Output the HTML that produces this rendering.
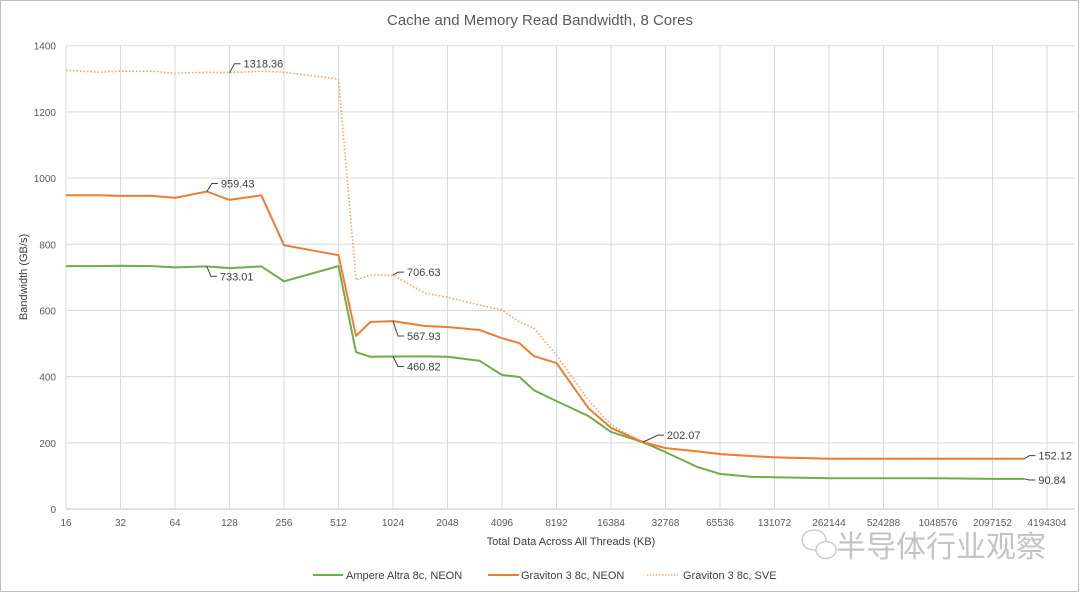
<!DOCTYPE html>
<html><head><meta charset="utf-8"><style>
html,body{margin:0;padding:0;background:#fff}
svg{display:block;font-family:"Liberation Sans","Noto Sans CJK SC",sans-serif}
</style></head><body>
<svg id="chart" width="1080" height="593" viewBox="0 0 1080 593">
<rect x="0.5" y="0.5" width="1078" height="591" fill="#fff" stroke="#bfbfbf"/>
<text x="540" y="25" text-anchor="middle" font-size="15" fill="#595959">Cache and Memory Read Bandwidth, 8 Cores</text>
<g id="grid"></g>
<g id="yticks"></g>
<g id="xticks"></g>
<g id="series"></g>
<g id="labels"></g>
<text transform="translate(27,277) rotate(-90)" text-anchor="middle" font-size="11" fill="#404040">Bandwidth (GB/s)</text>
<text x="571" y="545" text-anchor="middle" font-size="11" fill="#404040">Total Data Across All Threads (KB)</text>
<g>
<g><line x1="313" y1="575" x2="343" y2="575" stroke="#70ad47" stroke-width="2"/><text x="346" y="579" font-size="11" fill="#404040">Ampere Altra 8c, NEON</text></g>
<g><line x1="488" y1="575" x2="519" y2="575" stroke="#ed7d31" stroke-width="2"/><text x="521" y="579" font-size="11" fill="#404040">Graviton 3 8c, NEON</text></g>
<g><line x1="647" y1="575" x2="678" y2="575" stroke="#f4b183" stroke-width="1.5" stroke-dasharray="1.5,1.5"/><text x="683" y="579" font-size="11" fill="#404040">Graviton 3 8c, SVE</text></g>
</g>
<g opacity="0.5">
<ellipse cx="814" cy="540" rx="12" ry="10" fill="none" stroke="#999" stroke-width="1.5"/>
<ellipse cx="826" cy="550" rx="10" ry="8.5" fill="#fff" stroke="#999" stroke-width="1.5"/>
<text x="836" y="557" font-size="30" fill="#888" font-family="'Noto Sans CJK SC',sans-serif">半导体行业观察</text>
</g>
</svg>
<script>
const sizes=[16,24,32,48,64,96,128,192,256,512,640,768,1024,1536,2048,3072,4096,5120,6144,8192,12288,16384,24576,32768,49152,65536,98304,131072,262144,524288,1048576,2097152,3145728];
const ampere=[734,734,735,734,730,733.01,728,733,688,734,474,460,460.82,461,460,448,405,399,359,326,281,233,202,172,127,106,97,96,93,93,93,91,90.84];
const gravNeon=[948,948,946,946,940,959.43,934,948,797,767,523,565,567.93,553,550,541,516,501,462,441,305,245,202.07,184,174,166,160,156,152,152,152,152,152.12];
const gravSve=[1326,1320,1323,1323,1317,1320,1318.36,1323,1320,1299,692,707,706.63,652,640,616,601,565,547,465,329,254,200,185,175,167,161,157,153,153,153,153,153];
const yTicks=[0,200,400,600,800,1000,1200,1400];
const xTicks=[16,32,64,128,256,512,1024,2048,4096,8192,16384,32768,65536,131072,262144,524288,1048576,2097152,4194304];
const X0=66,X1=1047,Y0=509,Y1=45.7;
const xs=v=>X0+(Math.log2(v)-4)/18*(X1-X0);
const ys=v=>Y0-v/1400*(Y0-Y1);
const NS="http://www.w3.org/2000/svg";
function mk(t,a,p){const e=document.createElementNS(NS,t);for(const k in a)e.setAttribute(k,a[k]);p.appendChild(e);return e;}
const grid=document.getElementById('grid'),yt=document.getElementById('yticks'),xt=document.getElementById('xticks');
yTicks.forEach(v=>{
  const l=mk('line',{x1:X0,x2:1075,y1:ys(v),y2:ys(v),stroke:v===0?'#bfbfbf':'#d9d9d9','stroke-width':1},grid);
  
  
  const t=mk('text',{x:56,y:ys(v)+4,'text-anchor':'end','font-size':10,fill:'#595959'},yt);t.textContent=v;
  
  
});
xTicks.forEach(v=>{
  const l=mk('line',{x1:xs(v),x2:xs(v),y1:Y1,y2:Y0,stroke:'#d9d9d9','stroke-width':1},grid);
  
  
  const t=mk('text',{x:xs(v),y:526,'text-anchor':'middle','font-size':10,fill:'#595959'},xt);t.textContent=v;
  
  
});
const sg=document.getElementById('series');
function line(vals,color,w,dash,name){
  const d=vals.map((v,i)=>(i?'L':'M')+xs(sizes[i]).toFixed(1)+','+ys(v).toFixed(1)).join('');
  const p=mk('path',{d:d,fill:'none',stroke:color,'stroke-width':w,'stroke-linejoin':'round'},sg);
  if(dash)p.setAttribute('stroke-dasharray',dash);
  
  
}
line(gravSve,'#f4a36b',1.6,'1.5,2','series-graviton-sve');
line(ampere,'#70ad47',2,null,'series-ampere-neon');
line(gravNeon,'#ed7d31',2,null,'series-graviton-neon');
const lg=document.getElementById('labels');
function lab(arr,i,dx,dy,name){
  const x=xs(sizes[i]),y=ys(arr[i]);
  const ex=x+dx,ey=y+dy;
  mk('path',{d:`M${x},${y}L${ex},${ey}L${ex+6},${ey}`,fill:'none',stroke:'#404040','stroke-width':1},lg);
  const t=mk('text',{x:ex+9,y:ey+4,'font-size':11,fill:'#404040'},lg);t.textContent=arr[i].toFixed(2);
  
  
}
lab(gravSve,6,5,-9,'label-sve-peak');
lab(gravNeon,5,5,-8,'label-neon-peak');
lab(ampere,5,4,10,'label-ampere-peak');
lab(gravSve,12,5,-3,'label-sve-l2');
lab(gravNeon,12,5,15,'label-neon-l2');
lab(ampere,12,5,10,'label-ampere-l2');
lab(gravNeon,22,15,-7,'label-crossover');
lab(gravNeon,32,5,-3,'label-neon-end');
lab(ampere,32,5,1,'label-ampere-end');
</script>
</body></html>
